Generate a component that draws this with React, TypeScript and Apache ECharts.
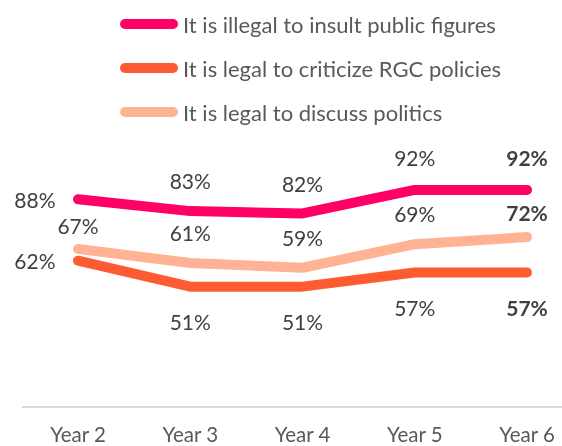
import React, { useEffect, useRef } from "react";
import * as echarts from "echarts";

const categories = ["Year 2", "Year 3", "Year 4", "Year 5", "Year 6"];
const insultValues = [88, 83, 82, 92, 92];
const criticizeValues = [62, 51, 51, 57, 57];
const discussValues = [67, 61, 59, 69, 72];
const seriesNames = [
  "It is illegal to insult public figures",
  "It is legal to criticize RGC policies",
  "It is legal to discuss politics",
];

const FONT = "Lato";
const LABEL_COLOR = "#404040";
const LABEL_SIZE = 21;

type Pos = { position: string; distance: number };

function buildData(values: number[], positions: Pos[]) {
  return values.map((v, i) => ({
    value: v,
    label: {
      show: true,
      position: positions[i].position,
      distance: positions[i].distance,
      fontWeight: i === values.length - 1 ? "bold" : "normal",
    },
  }));
}

export default function App() {
  const ref = useRef<HTMLDivElement>(null);
  useEffect(() => {
    if (!ref.current) return;
    const chart = echarts.init(ref.current, undefined, { renderer: "svg" });
    const lineBase = (color: string) => ({
      type: "line" as const,
      symbol: "circle",
      symbolSize: 1,
      showSymbol: true,
      lineStyle: { width: 10, color, cap: "round", join: "round" },
      itemStyle: { color },
      label: {
        show: true,
        formatter: "{c}%",
        fontFamily: FONT,
        fontSize: LABEL_SIZE,
        color: LABEL_COLOR,
      },
      emphasis: { disabled: true },
    });
    chart.setOption({
      animation: false,
      textStyle: { fontFamily: FONT },
      legend: {
        orient: "vertical",
        left: 115,
        top: 8,
        itemWidth: 58,
        itemHeight: 10,
        itemGap: 22,
        icon: "path://M5,0 L53,0 A5,5 0 0 1 53,10 L5,10 A5,5 0 0 1 5,0 Z",
        textStyle: { fontFamily: FONT, fontSize: 22, color: "#595959" },
        data: seriesNames,
      },
      grid: { left: 78, right: 35, top: 171, bottom: 39 },
      graphic: [
        {
          type: "line",
          shape: { x1: 22, y1: 407, x2: 562, y2: 407 },
          style: { stroke: "#D9D9D9", lineWidth: 2 },
          silent: true,
        },
      ],
      xAxis: {
        type: "category",
        data: categories,
        boundaryGap: false,
        axisLine: { show: false },
        axisTick: { show: false },
        axisLabel: {
          fontFamily: FONT,
          fontSize: 20.5,
          color: "#595959",
          margin: 16,
        },
      },
      yAxis: {
        type: "value",
        min: 0,
        max: 100,
        show: false,
        splitLine: { show: false },
      },
      series: [
        {
          ...lineBase("#FF0066"),
          name: seriesNames[0],
          data: buildData(insultValues, [
            { position: "left", distance: 22 },
            { position: "top", distance: 19.5 },
            { position: "top", distance: 18.5 },
            { position: "top", distance: 21.5 },
            { position: "top", distance: 21.5 },
          ]),
        },
        {
          ...lineBase("#FF5B33"),
          name: seriesNames[1],
          data: buildData(criticizeValues, [
            { position: "left", distance: 22 },
            { position: "bottom", distance: 23.5 },
            { position: "bottom", distance: 23.5 },
            { position: "bottom", distance: 24.5 },
            { position: "bottom", distance: 24.5 },
          ]),
        },
        {
          ...lineBase("#FFB394"),
          name: seriesNames[2],
          data: buildData(discussValues, [
            { position: "top", distance: 12.5 },
            { position: "top", distance: 19.5 },
            { position: "top", distance: 19.5 },
            { position: "top", distance: 19.5 },
            { position: "top", distance: 13.5 },
          ]),
        },
      ],
    });
    return () => chart.dispose();
  }, []);
  return (
    <div
      ref={ref}
      style={{ position: "fixed", left: 0, top: 0, width: 562, height: 446 }}
    />
  );
}
